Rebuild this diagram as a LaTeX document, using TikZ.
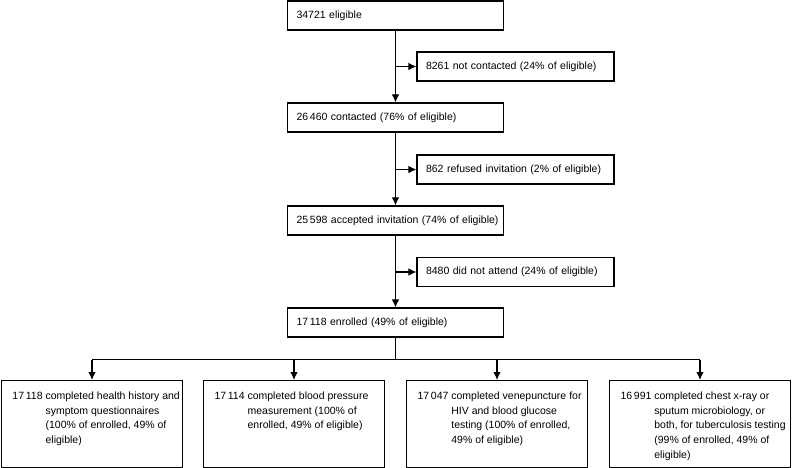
\documentclass[tikz,border=0pt]{standalone}
\usepackage{fontspec}
\setmainfont{Liberation Sans}
\usetikzlibrary{arrows.meta,positioning}

\tikzset{
  stagebox/.style={draw, line width=1.1pt, text width=198pt, inner xsep=9pt, inner ysep=0pt, minimum height=29pt, align=left},
  exitbox/.style={stagebox, text width=179pt},
  testbox/.style={draw, line width=1.1pt, inner xsep=11pt, inner ysep=8.7pt, anchor=north},
  flow/.style={line width=1.1pt, -{Latex[length=8pt,width=7.5pt]}}
}
\newcommand{\testtext}[2]{\parbox[t][69.6pt][t]{159pt}{\begin{tabular}[t]{@{}l@{\ }l@{}}#1 & #2\end{tabular}}}

\begin{document}
\begin{tikzpicture}[x=1pt,y=-1pt,font=\fontsize{10.5pt}{14.7pt}\selectfont]
  \useasboundingbox (0,0) rectangle (793,468);

  % main column
  \node[stagebox] (elig) at (395.5,15.5) {\mbox{34721 eligible}};
  \node[stagebox] (cont) at (395.5,117.5) {\mbox{26\,460 contacted (76\% of eligible)}};
  \node[stagebox] (acc) at (395.5,220.5) {\mbox{25\,598 accepted invitation (74\% of eligible)}};
  \node[stagebox] (enr) at (395.5,322.5) {\mbox{17\,118 enrolled (49\% of eligible)}};

  % losses
  \node[exitbox] (nocont) at (515.5,66.5) {\mbox{8261 not contacted (24\% of eligible)}};
  \node[exitbox] (refus) at (515.5,169.5) {\mbox{862 refused invitation (2\% of eligible)}};
  \node[exitbox] (noatt) at (515.5,272) {\mbox{8480 did not attend (24\% of eligible)}};

  \draw[flow] (elig) -- (cont);
  \draw[flow] (cont) -- (acc);
  \draw[flow] (acc) -- (enr);
  \draw[flow] (elig.south |- nocont) -- (nocont);
  \draw[flow] (cont.south |- refus) -- (refus);
  \draw[flow] (acc.south |- noatt) -- (noatt);

  % tests done
  \node[testbox] (hist) at (92,380) {\testtext{17\,118}{completed health history and\\ & symptom questionnaires\\ & (100\% of enrolled, 49\% of\\ & eligible)}};
  \node[testbox] (bp) at (294,380) {\testtext{17\,114}{completed blood pressure\\ & measurement (100\% of\\ & enrolled, 49\% of eligible)}};
  \node[testbox] (vene) at (497,380) {\testtext{17\,047}{completed venepuncture for\\ & HIV and blood glucose\\ & testing (100\% of enrolled,\\ & 49\% of eligible)}};
  \node[testbox] (tb) at (700,380) {\testtext{16\,991}{completed chest x-ray or\\ & sputum microbiology, or\\ & both, for tuberculosis testing\\ & (99\% of enrolled, 49\% of\\ & eligible)}};

  \path (enr.south) ++(0,22) coordinate (hub);
  \draw[line width=1.1pt] (enr) -- (hub);
  \draw[line width=1.1pt] (hub -| hist.north) -- (hub -| tb.north);
  \foreach \t in {hist,bp,vene,tb}
    \draw[flow] (hub -| \t.north) -- (\t);
\end{tikzpicture}
\end{document}
